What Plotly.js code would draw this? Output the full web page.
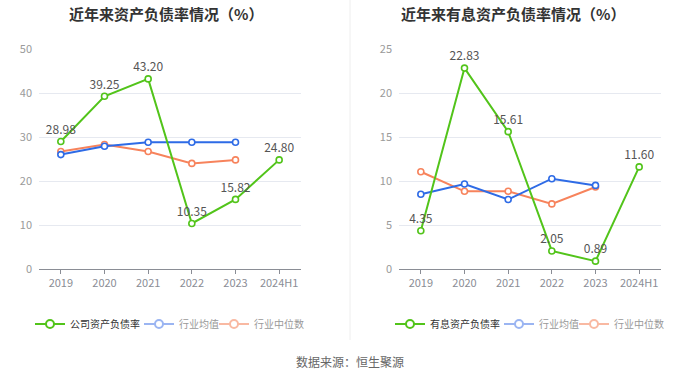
<!DOCTYPE html>
<html><head><meta charset="utf-8">
<script src="https://cdn.plot.ly/plotly-3.0.1.min.js"></script>
<style>html,body{margin:0;padding:0;background:#fff}#c{width:700px;height:378px}</style>
</head><body><div id="c"></div>
<script>
const years = ['2019','2020','2021','2022','2023','2024H1'];
const industryYears = ['2019','2020','2021','2022','2023'];
// Left: 资产负债率
const companyDebt = [28.98, 39.25, 43.20, 10.35, 15.82, 24.80];
const industryAvgDebt = [26.0, 27.9, 28.8, 28.8, 28.8];
const industryMedDebt = [26.7, 28.3, 26.7, 24.0, 24.8];
// Right: 有息资产负债率
const companyIB = [4.35, 22.83, 15.61, 2.05, 0.89, 11.60];
const industryAvgIB = [8.5, 9.66, 7.9, 10.26, 9.5];
const industryMedIB = [11.05, 8.83, 8.83, 7.4, 9.32];

const GREEN = '#52c41a', BLUE = '#2e6be6', ORANGE = '#f7835c';
const FONT = '"Noto Sans CJK SC", "Microsoft YaHei", sans-serif';

function line(x, y, color, xa, ya, withText) {
  const t = {
    x: x, y: y, xaxis: xa, yaxis: ya, type: 'scatter', mode: withText ? 'lines+markers+text' : 'lines+markers',
    line: {color: color, width: 2},
    marker: {symbol: 'circle', size: 6, color: '#fff', line: {color: color, width: 1.6}},
    showlegend: false, hoverinfo: 'x+y', cliponaxis: false
  };
  if (withText) {
    t.text = y.map(v => v.toFixed(2));
    t.textposition = 'top center';
    t.textfont = {size: 12, color: '#555', family: FONT};
  }
  return t;
}
function legendItem(name, color, textColor, lg) {
  return {x: [null], y: [null], type: 'scatter', mode: 'lines+markers', name: '<span style="color:' + textColor + '">' + name + '</span>',
    line: {color: color, width: 2}, marker: {symbol: 'circle', size: 8, color: '#fff', line: {color: color, width: 2}},
    legend: lg, showlegend: true, hoverinfo: 'skip', xaxis: 'x', yaxis: 'y'};
}

const data = [
  line(industryYears, industryMedDebt, ORANGE, 'x', 'y', false),
  line(industryYears, industryAvgDebt, BLUE, 'x', 'y', false),
  line(years, companyDebt, GREEN, 'x', 'y', true),
  line(industryYears, industryMedIB, ORANGE, 'x2', 'y2', false),
  line(industryYears, industryAvgIB, BLUE, 'x2', 'y2', false),
  line(years, companyIB, GREEN, 'x2', 'y2', true),
  legendItem('公司资产负债率', GREEN, '#333', 'legend'),
  legendItem('行业均值', '#9bb5f2', '#999', 'legend3'),
  legendItem('行业中位数', '#f9b9a2', '#999', 'legend4'),
  legendItem('有息资产负债率', GREEN, '#333', 'legend2'),
  legendItem('行业均值', '#9bb5f2', '#999', 'legend5'),
  legendItem('行业中位数', '#f9b9a2', '#999', 'legend6')
];

const W = 700, H = 378;
const px = v => v / W, py = v => 1 - v / H;
const xaxisBase = {
  type: 'category', categoryorder: 'array', categoryarray: years, range: [-0.5, 5.5],
  showgrid: false, zeroline: false, showline: true, linecolor: '#8a8d95', linewidth: 1,
  ticks: 'outside', ticklen: 4, tickcolor: '#8a8d95', tickfont: {size: 11, color: '#8a8d95', family: FONT},
  fixedrange: true
};
const yaxisBase = {
  showgrid: true, gridcolor: '#e6e9f0', gridwidth: 1, zeroline: false, showline: false,
  ticks: '', tickfont: {size: 11, color: '#9a9a9a', family: FONT}, ticklabelstandoff: 6, fixedrange: true,
  domain: [py(269), py(49)]
};
function lg(xText) {
  return {orientation: 'h', x: px(xText - 40), xanchor: 'left', y: py(324), yanchor: 'middle',
    font: {size: 10, color: '#333', family: FONT}, itemwidth: 30, bgcolor: 'rgba(0,0,0,0)', borderwidth: 0};
}
const layout = {
  width: W, height: H, margin: {l: 0, r: 0, t: 0, b: 0}, paper_bgcolor: '#fff', plot_bgcolor: '#fff',
  font: {family: FONT},
  xaxis: Object.assign({}, xaxisBase, {domain: [px(39), px(301)], anchor: 'y'}),
  yaxis: Object.assign({}, yaxisBase, {range: [0, 50], dtick: 10, anchor: 'x'}),
  xaxis2: Object.assign({}, xaxisBase, {domain: [px(399), px(661)], anchor: 'y2'}),
  yaxis2: Object.assign({}, yaxisBase, {range: [0, 25], dtick: 5, anchor: 'x2'}),
  legend: lg(70), legend3: lg(179), legend4: lg(254),
  legend2: lg(430), legend5: lg(539), legend6: lg(614),
  shapes: [{type: 'line', xref: 'paper', yref: 'paper', x0: 0.5, x1: 0.5, y0: py(340), y1: 1, line: {color: '#eeeeee', width: 1}}],
  annotations: [
    {text: '<b>近年来资产负债率情况（%）</b>', xref: 'paper', yref: 'paper', x: px(166), y: py(13), xanchor: 'center', yanchor: 'middle', showarrow: false, font: {size: 15, color: '#333', family: FONT}},
    {text: '<b>近年来有息资产负债率情况（%）</b>', xref: 'paper', yref: 'paper', x: px(513), y: py(13), xanchor: 'center', yanchor: 'middle', showarrow: false, font: {size: 15, color: '#333', family: FONT}},
    {text: '数据来源：恒生聚源', xref: 'paper', yref: 'paper', x: 0.5, y: py(361), xanchor: 'center', yanchor: 'middle', showarrow: false, font: {size: 12, color: '#666', family: FONT}}
  ]
};
Plotly.newPlot('c', data, layout, {displayModeBar: false, staticPlot: true});
</script></body></html>
